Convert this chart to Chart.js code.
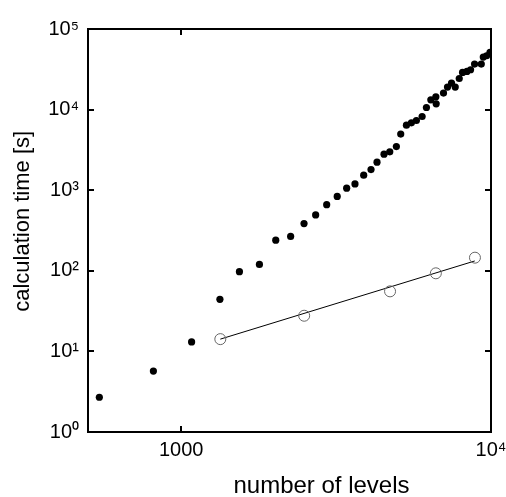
<!DOCTYPE html>
<html>
<head>
<meta charset="utf-8">
<script src="https://cdn.jsdelivr.net/npm/chart.js@4/dist/chart.umd.min.js"></script>
<style>
  html, body { margin: 0; padding: 0; background: #fff; }
  #c { display: block; }
</style>
</head>
<body>
<canvas id="c" width="506" height="497"></canvas>
<script>
// ---- data ----
const levelsFilled = [544, 813, 1080, 1333, 1541, 1788, 2019, 2255, 2491, 2716, 2948, 3188, 3420, 3638, 3882, 4099, 4286, 4515, 4712, 4949, 5112, 5333, 5534, 5743, 5993, 6188, 6394, 6637, 6653, 7025, 7237, 7457, 7665, 7897, 8093, 8363, 8590, 8850, 9303, 9443, 9679, 9926];
const timeFilled = [2.7, 5.7, 13.1, 44.3, 97.5, 120, 240, 267, 385, 493, 662, 838, 1059, 1197, 1536, 1803, 2228, 2800, 2991, 3482, 4966, 6417, 6855, 7325, 8207, 10620, 13240, 14420, 11800, 16030, 19030, 21330, 19030, 24330, 28900, 29730, 31220, 36730, 36730, 44890, 46600, 51220];

const levelsOpen = [1337, 2494, 4722, 6637, 8875];
const timeOpen = [14.2, 27.7, 55.6, 93.1, 145.5];

const fitLevels = [1337, 8862];
const fitTime = [14.2, 132.4];

const xTickValues = [1000, 10000];
const xTickLabels = ["1000", "10\u2074"];
const yTickValues = [1, 10, 100, 1000, 10000, 100000];
const yTickLabels = ["10\u2070", "10\u00B9", "10\u00B2", "10\u00B3", "10\u2074", "10\u2075"];

const xTitle = "number of levels";
const yTitle = "calculation time [s]";

// ---- chart ----
const FONT = "'Liberation Sans', Arial, Helvetica, sans-serif";
const pts = (xs, ys) => xs.map((x, i) => ({ x: x, y: ys[i] }));

const framePlugin = {
  id: 'frame',
  afterDraw(chart) {
    const { ctx, chartArea: a, scales } = chart;
    ctx.save();
    ctx.strokeStyle = '#000';
    ctx.lineWidth = 2;
    ctx.strokeRect(a.left, a.top, a.right - a.left, a.bottom - a.top);
    const tl = 6;
    ctx.beginPath();
    yTickValues.forEach(v => {
      const p = Math.round(scales.y.getPixelForValue(v));
      ctx.moveTo(a.left, p); ctx.lineTo(a.left + tl, p);
      ctx.moveTo(a.right, p); ctx.lineTo(a.right - tl, p);
    });
    xTickValues.forEach(v => {
      const p = Math.round(scales.x.getPixelForValue(v));
      ctx.moveTo(p, a.bottom); ctx.lineTo(p, a.bottom - tl);
      ctx.moveTo(p, a.top); ctx.lineTo(p, a.top + tl);
    });
    ctx.stroke();
    // x-axis title, placed below the tick labels as in the reference
    ctx.fillStyle = '#000';
    ctx.font = "24px " + FONT;
    ctx.textAlign = 'center';
    ctx.textBaseline = 'alphabetic';
    ctx.fillText(xTitle, (a.left + a.right) / 2 + 32, chart.height - 4);
    ctx.restore();
  }
};

new Chart(document.getElementById('c'), {
  type: 'scatter',
  data: {
    datasets: [
      {
        label: 'fit',
        data: pts(fitLevels, fitTime),
        showLine: true,
        borderColor: '#000',
        borderWidth: 1,
        pointRadius: 0,
        fill: false,
        order: 3
      },
      {
        label: 'open',
        data: pts(levelsOpen, timeOpen),
        pointRadius: 5.5,
        pointBackgroundColor: 'rgba(0,0,0,0)',
        pointBorderColor: '#666',
        pointBorderWidth: 1,
        order: 2
      },
      {
        label: 'filled',
        data: pts(levelsFilled, timeFilled),
        pointRadius: 3.6,
        pointBackgroundColor: '#000',
        pointBorderColor: '#000',
        pointBorderWidth: 0,
        order: 1
      }
    ]
  },
  options: {
    responsive: false,
    animation: false,
    devicePixelRatio: 1,
    layout: { padding: { top: 29, right: 15, left: 0, bottom: 0 } },
    plugins: { legend: { display: false }, tooltip: { enabled: false } },
    scales: {
      x: {
        type: 'logarithmic',
        min: 500,
        max: 10000,
        grid: { display: false, drawTicks: false },
        border: { display: false },
        afterBuildTicks: s => { s.ticks = xTickValues.map(v => ({ value: v })); },
        afterFit: s => { s.height = 65; s.paddingLeft = 0; s.paddingRight = 0; },
        ticks: {
          autoSkip: false,
          maxRotation: 0,
          padding: 6,
          color: '#000',
          font: { family: FONT, size: 20 },
          callback: v => { const i = xTickValues.indexOf(v); return i >= 0 ? xTickLabels[i] : ''; }
        },
        title: { display: false, text: xTitle }
      },
      y: {
        type: 'logarithmic',
        min: 1,
        max: 100000,
        grid: { display: false, drawTicks: false },
        border: { display: false },
        afterBuildTicks: s => { s.ticks = yTickValues.map(v => ({ value: v })); },
        afterFit: s => { s.width = 88; s.paddingTop = 0; s.paddingBottom = 0; },
        ticks: {
          autoSkip: false,
          padding: 9,
          color: '#000',
          font: { family: FONT, size: 20 },
          callback: v => { const i = yTickValues.indexOf(v); return i >= 0 ? yTickLabels[i] : ''; }
        },
        title: {
          display: true,
          text: '   ' + yTitle,
          color: '#000',
          font: { family: FONT, size: 22 },
          padding: { top: 10, bottom: 0 }
        }
      }
    }
  },
  plugins: [framePlugin]
});
</script>
</body>
</html>
